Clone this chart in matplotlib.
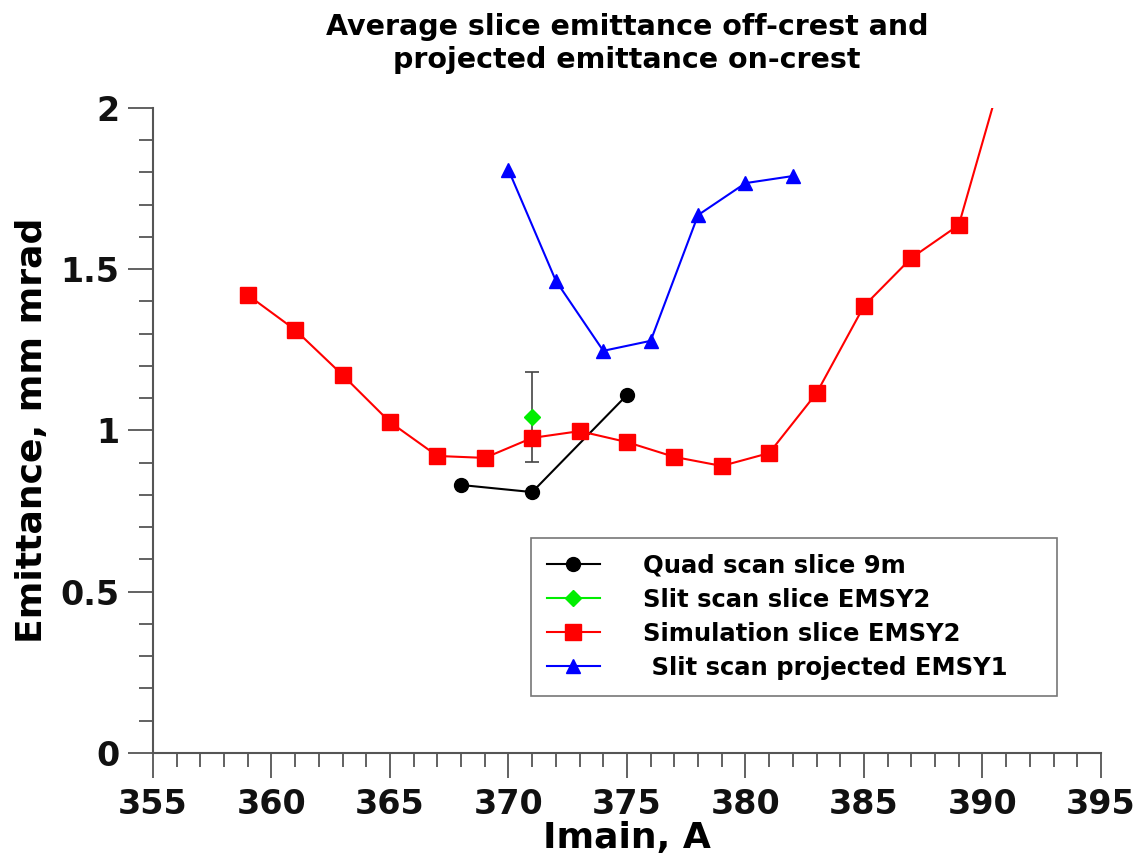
import matplotlib
matplotlib.use("Agg")
import matplotlib.pyplot as plt
from matplotlib.ticker import MultipleLocator

plt.rcParams['font.family'] = ['DejaVu Sans']
plt.rcParams['font.weight'] = 'bold'

# Data
quad_x = [368, 371, 375]
quad_y = [0.831, 0.809, 1.110]

slit_x = [371]
slit_y = [1.042]
slit_err = [0.14]

sim_x = [359, 361, 363, 365, 367, 369, 371, 373, 375, 377, 379, 381, 383, 385, 387, 389, 391]
sim_y = [1.42, 1.312, 1.172, 1.026, 0.921, 0.915, 0.977, 0.998, 0.964, 0.918, 0.890, 0.930,
         1.116, 1.386, 1.535, 1.637, 2.15]

proj_x = [370, 372, 374, 376, 378, 380, 382]
proj_y = [1.808, 1.464, 1.247, 1.278, 1.668, 1.767, 1.789]

labels = ["Quad scan slice 9m", "Slit scan slice EMSY2",
          "Simulation slice EMSY2", " Slit scan projected EMSY1    "]

fig = plt.figure(figsize=(11.34, 8.59), dpi=100)
ax = fig.add_axes([0.1349, 0.1234, 0.836, 0.7509])

l1, = ax.plot(quad_x, quad_y, color='black', lw=1.5, marker='o', ms=10, label=labels[0])
ax.errorbar(slit_x, slit_y, yerr=slit_err, fmt='none', ecolor='#444444', elinewidth=1.2,
            capsize=5, capthick=1.2, zorder=2)
l2, = ax.plot(slit_x, slit_y, color='#00ee00', lw=1.5, marker='D', ms=8, label=labels[1], zorder=4)
l3, = ax.plot(sim_x, sim_y, color='red', lw=1.5, marker='s', ms=11, label=labels[2])
l4, = ax.plot(proj_x, proj_y, color='blue', lw=1.5, marker='^', ms=10, label=labels[3])

ax.set_xlim(355, 395)
ax.set_ylim(0, 2)
ax.xaxis.set_major_locator(MultipleLocator(5))
ax.xaxis.set_minor_locator(MultipleLocator(1))
ax.yaxis.set_minor_locator(MultipleLocator(0.1))
ax.set_yticks([0, 0.5, 1, 1.5, 2])
ax.set_yticklabels(['0', '0.5', '1', '1.5', '2'])

for s in ['top', 'right']:
    ax.spines[s].set_visible(False)
for s in ['left', 'bottom']:
    ax.spines[s].set_color('#555555')
    ax.spines[s].set_linewidth(1.5)

ax.tick_params(which='major', direction='out', length=18, width=1.3, color='#555555',
               labelsize=24)
ax.tick_params(axis='x', which='major', pad=7)
ax.tick_params(axis='y', which='major', pad=6)
ax.tick_params(which='minor', direction='out', length=10, width=1.3, color='#555555')
for lab in ax.get_xticklabels() + ax.get_yticklabels():
    lab.set_fontweight('bold')
    lab.set_color('#111111')

ax.set_xlabel("Imain, A", fontsize=26, fontweight='bold', labelpad=0)
ax.set_ylabel("Emittance, mm mrad", fontsize=26, fontweight='bold')
ax.yaxis.set_label_coords(-0.1097, 0.5)
ax.set_title("Average slice emittance off-crest and\nprojected emittance on-crest",
             fontsize=20.5, fontweight='bold', pad=29)

leg = ax.legend(handles=[l1, l2, l3, l4], loc='upper left',
                bbox_to_anchor=(0.3987, 0.3333), frameon=True,
                fancybox=False, edgecolor='#555555', handlelength=2.2,
                handletextpad=1.75, borderpad=0.65, labelspacing=0.41,
                borderaxespad=0.0,
                prop={'weight': 'bold', 'size': 17.5})
leg.get_frame().set_linewidth(1.2)

fig.savefig("out.png", dpi=100)
